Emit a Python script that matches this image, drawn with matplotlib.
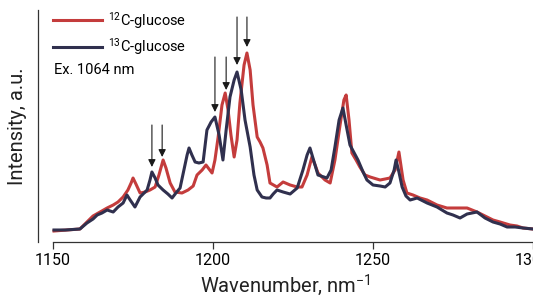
import matplotlib
matplotlib.use("Agg")
import matplotlib.pyplot as plt
import numpy as np

plt.rcParams['font.family'] = ['Roboto', 'DejaVu Sans']
plt.rcParams['mathtext.fontset'] = 'custom'
plt.rcParams['mathtext.rm'] = 'Roboto'
plt.rcParams['mathtext.it'] = 'Roboto:italic'

# 13C-glucose spectrum (wavenumber, intensity a.u.)
wn_13c = [1150.3, 1153.8, 1158.4, 1160.6, 1162.5, 1163.8, 1165.3, 1166.9, 1168.8, 1170.3,
          1171.9, 1173.1, 1174.1, 1175.6, 1177.2, 1179.4, 1180.3, 1180.9, 1181.9, 1182.8,
          1184.4, 1185.9, 1187.2, 1188.4, 1189.7, 1190.9, 1191.9, 1192.5, 1193.4, 1194.4,
          1195.6, 1196.9, 1198.1, 1199.4, 1200.6, 1201.9, 1203.1, 1204.1, 1205.3, 1206.6,
          1207.5, 1208.8, 1210.0, 1211.6, 1212.8, 1213.8, 1215.3, 1216.6, 1217.8, 1218.8,
          1220.0, 1221.9, 1224.1, 1226.3, 1228.1, 1229.4, 1230.3, 1231.6, 1232.8, 1235.6,
          1236.9, 1238.1, 1239.4, 1240.6, 1241.6, 1242.8, 1245.3, 1246.9, 1248.1, 1250.0,
          1252.2, 1253.8, 1255.3, 1256.6, 1257.2, 1258.1, 1259.1, 1260.3, 1261.6, 1263.8,
          1266.9, 1270.0, 1273.1, 1275.0, 1277.2, 1279.4, 1282.5, 1285.0, 1287.5, 1289.7,
          1291.9, 1294.4, 1296.9, 1300.0]
int_13c = [12, 12, 13, 19, 23, 27, 29, 32, 30, 35,
           39, 47, 42, 35, 45, 52, 62, 70, 64, 57,
           52, 48, 44, 49, 54, 72, 87, 94, 87, 80,
           79, 80, 112, 120, 125, 107, 82, 112, 145, 162,
           170, 152, 122, 95, 67, 52, 45, 44, 44, 48,
           52, 50, 48, 54, 72, 87, 94, 80, 67, 64,
           72, 95, 122, 134, 117, 97, 82, 70, 62, 57,
           56, 55, 59, 72, 82, 70, 55, 46, 42, 44,
           39, 35, 29, 27, 24, 28, 30, 24, 20, 18,
           15, 15, 14, 13]

# 12C-glucose spectrum
wn_12c = [1150.3, 1158.4, 1160.6, 1162.5, 1164.7, 1166.9, 1168.8, 1170.3, 1171.9, 1173.4,
          1174.4, 1175.0, 1175.9, 1177.2, 1178.8, 1180.3, 1181.9, 1183.1, 1184.4, 1185.3,
          1186.6, 1188.1, 1190.3, 1192.2, 1193.8, 1195.0, 1196.6, 1197.8, 1199.7, 1200.6,
          1201.6, 1202.8, 1203.8, 1204.7, 1205.6, 1206.6, 1207.5, 1208.4, 1209.7, 1210.6,
          1211.6, 1212.5, 1213.8, 1214.7, 1215.6, 1216.9, 1217.8, 1220.0, 1221.9, 1224.1,
          1226.3, 1227.8, 1229.4, 1230.9, 1231.9, 1232.8, 1235.0, 1236.6, 1238.1, 1239.7,
          1240.9, 1241.6, 1242.5, 1243.4, 1244.7, 1245.9, 1247.5, 1249.1, 1252.2, 1253.8,
          1255.3, 1256.9, 1258.1, 1259.4, 1260.6, 1262.5, 1264.7, 1266.9, 1270.0, 1273.1,
          1276.3, 1279.4, 1282.5, 1285.0, 1287.5, 1289.7, 1292.8, 1295.0, 1296.9, 1300.0]
int_12c = [11, 13, 20, 26, 30, 34, 37, 40, 45, 52,
           59, 64, 58, 49, 50, 52, 55, 67, 82, 74,
           59, 50, 49, 52, 56, 67, 72, 77, 69, 82,
           105, 137, 149, 132, 107, 85, 102, 139, 177, 189,
           172, 137, 105, 100, 94, 77, 59, 55, 60, 57,
           55, 55, 67, 85, 77, 69, 62, 59, 82, 117,
           142, 147, 122, 89, 82, 75, 67, 65, 62, 63,
           64, 72, 90, 62, 49, 47, 44, 42, 37, 34,
           34, 34, 30, 26, 22, 20, 17, 16, 14, 13]

# arrows marking shifted bands: position, tip, tail
arrow_wn = [1180.9, 1184.1, 1200.6, 1204.1, 1207.5, 1210.6]
arrow_tip = [75, 85, 130, 152, 177, 195]
arrow_top = [117, 117, 185, 185, 225, 225]

xticks = [1150, 1200, 1250, 1300]

red = '#c43c3c'
navy = '#30304e'

fig = plt.figure(figsize=(5.33, 3.0), dpi=100)
ax = fig.add_axes([38/533, 1 - 242/300, 495/533, 232/300])

ax.plot(wn_12c, int_12c, color=red, lw=2.2, label='$^{12}$C-glucose', solid_joinstyle='round')
ax.plot(wn_13c, int_13c, color=navy, lw=2.2, label='$^{13}$C-glucose', solid_joinstyle='round')

for x, tip, top in zip(arrow_wn, arrow_tip, arrow_top):
    ax.annotate('', xy=(x, tip), xytext=(x, top),
                arrowprops=dict(arrowstyle='-|>', color='#1a1a1a', lw=0.8,
                                mutation_scale=11, shrinkA=0, shrinkB=0))

ax.set_xlim(1145.3, 1300)
ax.set_ylim(0, 232)
ax.spines['top'].set_visible(False)
ax.spines['right'].set_visible(False)
ax.spines['bottom'].set_bounds(1150, 1300)
for s in ('left', 'bottom'):
    ax.spines[s].set_linewidth(0.9)
    ax.spines[s].set_color('#333333')
ax.set_yticks([])
ax.set_xticks(xticks)
ax.tick_params(axis='x', direction='out', length=5, width=0.9, color='#333333',
               labelsize=11.5, pad=3)
ax.set_xlabel('Wavenumber, nm$^{-1}$', fontsize=14.5, labelpad=3, color='#222222')
ax.set_ylabel('Intensity, a.u.', fontsize=14.5, labelpad=8, color='#222222')

ax.legend(loc='upper left', bbox_to_anchor=(0.03, 1.0), frameon=False, fontsize=10.5,
          handlelength=3.4, handletextpad=0.4, labelspacing=0.35, borderpad=0,
          borderaxespad=0)
ax.text(0.032, 0.741, 'Ex. 1064 nm', transform=ax.transAxes, fontsize=10.5,
        va='center', ha='left')

fig.savefig('out.png', dpi=100)
